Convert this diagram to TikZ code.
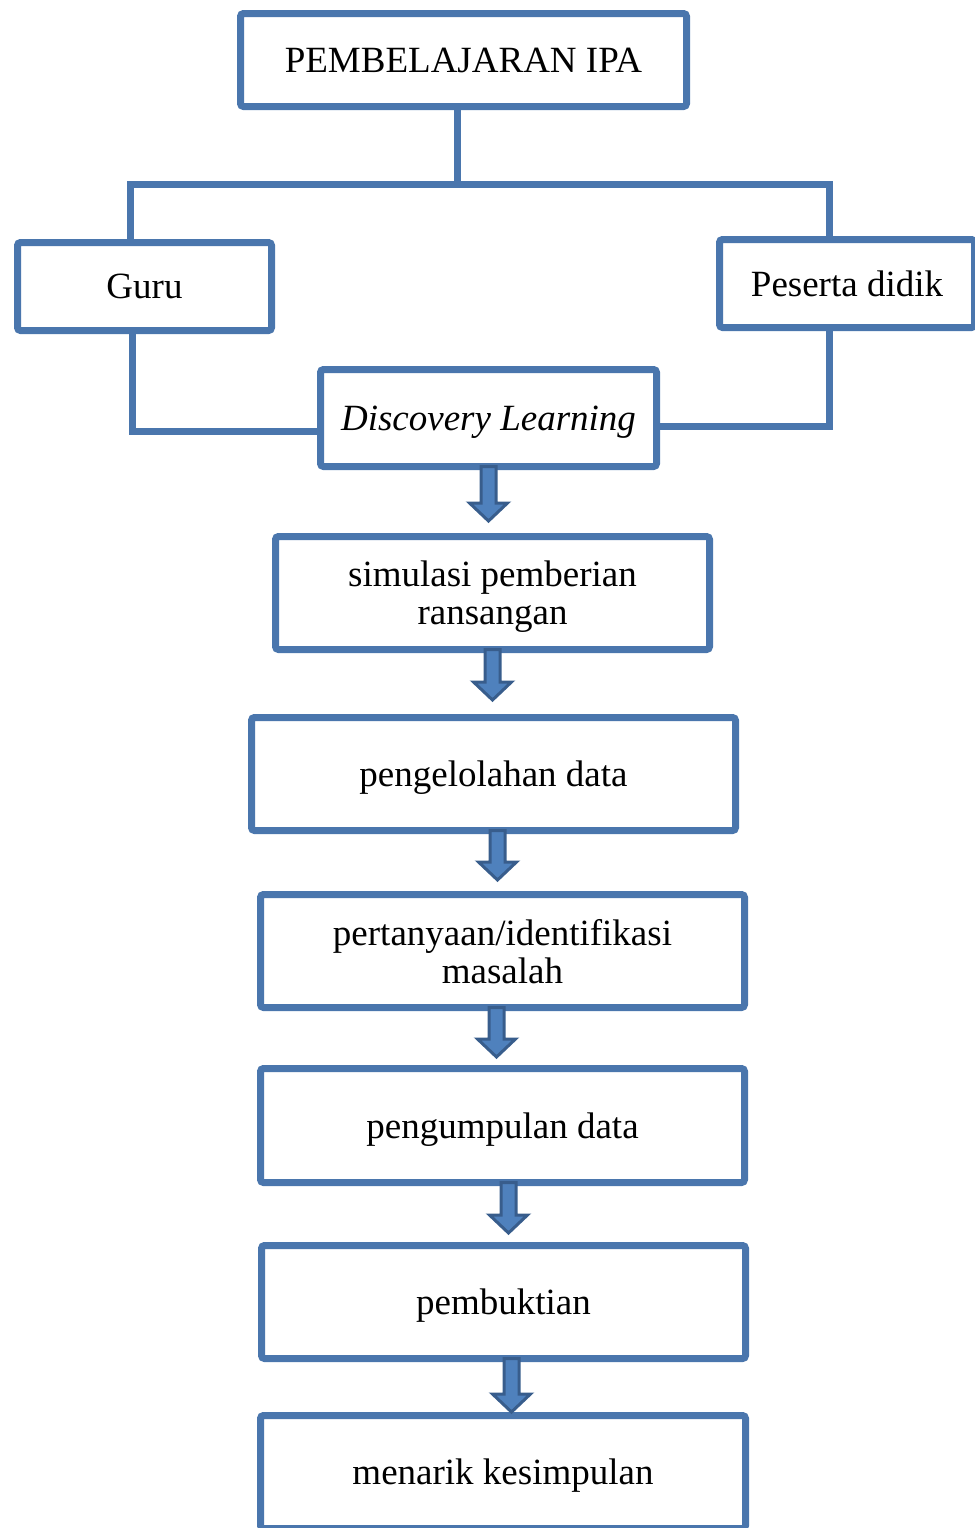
\documentclass[tikz,border=0pt]{standalone}
\usepackage{fontspec}
\setmainfont{Liberation Serif}
\usetikzlibrary{calc, shadows}

\definecolor{boxblue}{RGB}{74,118,173}
\definecolor{arrowfill}{RGB}{79,129,189}
\definecolor{arrowedge}{RGB}{56,93,140}

\begin{document}
\begin{tikzpicture}[
    x=0.5pt, y=-0.5pt,
    box/.style={draw=boxblue, line width=3.5pt, rounded corners=1.5pt, fill=white,
        inner sep=0pt, outer sep=0pt, align=center, text depth=0pt,
        font=\fontsize{18.5}{19}\selectfont,
        drop shadow={shadow xshift=1pt, shadow yshift=-1.5pt, opacity=0.25}},
    link/.style={draw=boxblue, line width=3.5pt},
    flow/.style={draw=arrowedge, fill=arrowfill, line width=1.5pt, line join=miter,
        to path={let \p1=(\tikztostart), \p2=(\tikztotarget) in
            ({\x1-3.75pt},\y1) -- ({\x1-3.75pt},{\y2+9pt}) -- ({\x1-9.5pt},{\y2+9pt})
            -- (\x1,\y2) -- ({\x1+9.5pt},{\y2+9pt}) -- ({\x1+3.75pt},{\y2+9pt})
            -- ({\x1+3.75pt},\y1) -- cycle}}
]

    % === Page ===
    \useasboundingbox (0,0) rectangle (975,1528);
    \clip (0,0) rectangle (975,1528);

    % === Boxes ===
    \node[box, minimum width=223pt, minimum height=46.5pt] (ipa) at (463.5,60) {PEMBELAJARAN IPA};
    \node[box, minimum width=127pt, minimum height=44pt] (guru) at (144.5,286.5) {Guru};
    \node[box, minimum width=127.5pt, minimum height=44pt] (siswa) at (847,283.5) {Peserta didik};
    \node[box, minimum width=168pt, minimum height=48.5pt] (dl) at (488.5,418) {\textit{Discovery Learning}};

    \node[box, minimum width=217pt, minimum height=56.5pt] (stimulus) at (492.5,593) {simulasi pemberian\\ransangan};
    \node[box, minimum width=242pt, minimum height=56.5pt] (olah) at (493.5,774) {pengelolahan data};
    \node[box, minimum width=242pt, minimum height=56.5pt] (masalah) at (502.5,951) {pertanyaan/identifikasi\\masalah};
    \node[box, minimum width=242pt, minimum height=57pt] (kumpul) at (502.5,1125.5) {pengumpulan data};
    \node[box, minimum width=242pt, minimum height=56.5pt] (bukti) at (503.5,1302) {pembuktian};
    \node[box, minimum width=242.5pt, minimum height=56.5pt] (simpul) at (503,1472) {menarik kesimpulan};

    % === Tree connectors ===
    \coordinate (hub) at (457,184);
    \draw[link] (ipa.south -| hub) -- (hub);
    \draw[link] ([xshift=-7.25pt]guru.north) |- (hub) -| ([xshift=-9pt]siswa.north);
    \draw[link] ([xshift=-6.25pt]guru.south) |- ([yshift=-6.5pt]dl.west);
    \draw[link] ([xshift=-9pt]siswa.south) |- ([yshift=-4pt]dl.east);

    % === Step arrows ===
    \draw[flow] (dl.south) to ([yshift=7.75pt]stimulus.north);
    \draw[flow] (stimulus.south) to ([yshift=8.75pt]olah.north);
    \draw[flow] ([xshift=2pt]olah.south) to ([yshift=7.25pt]masalah.north);
    \draw[flow] ([xshift=-3pt]masalah.south) to ([yshift=5.75pt]kumpul.north);
    \draw[flow] ([xshift=3pt]kumpul.south) to ([yshift=6.25pt]bukti.north);
    \draw[flow] ([xshift=4pt]bukti.south) to ([yshift=1.75pt]simpul.north);

\end{tikzpicture}
\end{document}
